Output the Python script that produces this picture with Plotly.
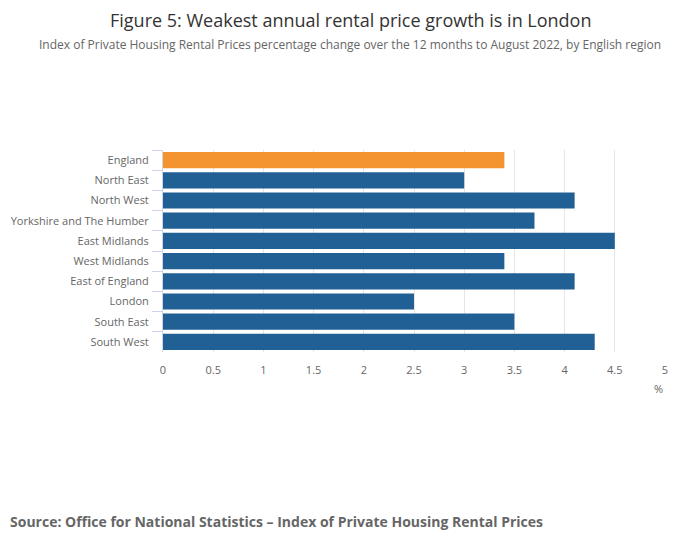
import plotly.graph_objects as go

regions = ["England", "North East", "North West", "Yorkshire and The Humber", "East Midlands",
           "West Midlands", "East of England", "London", "South East", "South West"]
values = [3.4, 3.0, 4.1, 3.7, 4.5, 3.4, 4.1, 2.5, 3.5, 4.3]
colors = ["#F39431"] + ["#206095"] * 9
x_ticks = [0, 0.5, 1, 1.5, 2, 2.5, 3, 3.5, 4, 4.5, 5]
x_ticklabels = ["0", "0.5", "1", "1.5", "2", "2.5", "3", "3.5", "4", "4.5", "5"]

OFF = 8  # page body margin offset
W, H = 700 - OFF, 549 - OFF
L, T = 163 - OFF, 150 - OFF
pw, ph = 502, 202
R = W - L - pw
B = H - T - ph

def py(p):
    return (H - B - (p - OFF)) / ph

def px(p):
    return ((p - OFF) - L) / pw

fig = go.Figure(go.Bar(
    x=values, y=regions, orientation="h",
    marker=dict(color=colors, line=dict(width=0)),
    hoverinfo="x+y",
))

font = "Open Sans, sans-serif"
fig.update_layout(
    width=W, height=H,
    margin=dict(l=L, r=R, t=T, b=B, pad=0, autoexpand=False),
    paper_bgcolor="white", plot_bgcolor="white",
    font=dict(family=font, size=11, color="#666666"),
    bargap=0.2,
    showlegend=False,
    xaxis=dict(
        range=[0, 5], tickvals=x_ticks, ticktext=x_ticklabels,
        showgrid=True, gridcolor="#e6e6e6", gridwidth=1,
        zeroline=False, showline=False, ticks="", automargin=False,
        ticklabelstandoff=10,
        tickfont=dict(size=11, color="#666666"), fixedrange=True,
    ),
    yaxis=dict(
        categoryorder="array", categoryarray=regions, autorange="reversed",
        showline=True, linecolor="#ccd6eb", linewidth=1,
        ticks="outside", ticklen=10, tickcolor="#ccd6eb", tickwidth=1, tickson="boundaries",
        ticklabelstandoff=11, automargin=False,
        showgrid=False, zeroline=False,
        tickfont=dict(size=11, color="#666666"), fixedrange=True,
    ),
    annotations=[
        dict(text="Figure 5: Weakest annual rental price growth is in London",
             xref="paper", yref="paper", x=px(350), y=py(20),
             xanchor="center", yanchor="middle", showarrow=False,
             font=dict(family=font, size=18, color="#333333")),
        dict(text="Index of Private Housing Rental Prices percentage change over the 12 months to August 2022, by English region",
             xref="paper", yref="paper", x=px(350), y=py(44),
             xanchor="center", yanchor="middle", showarrow=False,
             font=dict(family=font, size=12, color="#666666")),
        dict(text="%", xref="paper", yref="paper", x=1, y=py(388),
             xanchor="right", yanchor="middle", showarrow=False,
             font=dict(family=font, size=11, color="#666666")),
        dict(text="<b>Source: Office for National Statistics – Index of Private Housing Rental Prices</b>",
             xref="paper", yref="paper", x=px(8), y=py(521),
             xanchor="left", yanchor="middle", showarrow=False,
             font=dict(family=font, size=14, color="#666666")),
    ],
)

fig.write_html("out.html")
